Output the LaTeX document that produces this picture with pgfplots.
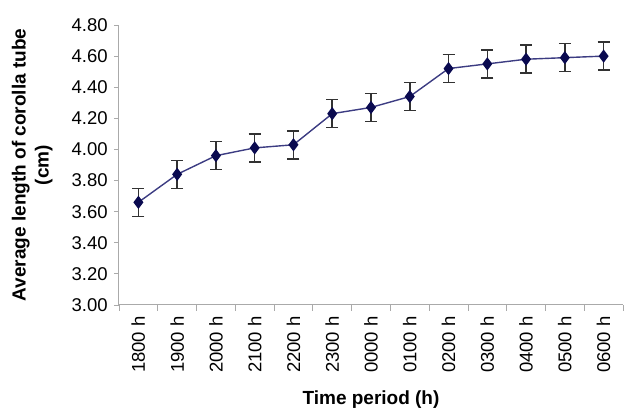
\documentclass[border=0pt]{standalone}
\usepackage{fontspec}
\setmainfont{Liberation Sans}
\usepackage{pgfplots}
\pgfplotsset{compat=1.18}

\definecolor{lineblue}{RGB}{60,60,130}
\definecolor{markblue}{RGB}{10,10,80}
\definecolor{axisgray}{RGB}{170,170,170}
\definecolor{errgray}{RGB}{50,50,50}

\begin{document}
\fontsize{18.5}{21}\selectfont
\begin{tikzpicture}[font=\fontsize{18.5}{21}\selectfont]
\begin{axis}[
    scale only axis,
    width=504pt,
    height=280pt,
    xmin=-0.5, xmax=12.5,
    ymin=3.0, ymax=4.8,
    ytick={3.0,3.2,...,4.81},
    yticklabel style={/pgf/number format/.cd, fixed, fixed zerofill, precision=2},
    /pgf/number format/assume math mode=true,
    xtick={0,...,12},
    xticklabels={1800 h,1900 h,2000 h,2100 h,2200 h,2300 h,0000 h,0100 h,0200 h,0300 h,0400 h,0500 h,0600 h},
    x tick label style={rotate=90, anchor=east},
    minor xtick={-0.5,0.5,...,12.5},
    major x tick style={draw=none},
    minor x tick style={draw=axisgray, line width=0.8pt},
    minor tick length=6pt,
    y tick style={draw=axisgray, line width=0.8pt},
    major tick length=5pt,
    tick align=outside,
    axis x line*=bottom,
    axis y line*=left,
    axis line style={draw=axisgray, line width=1pt},
    tick label style={font=\fontsize{18.5}{21}\selectfont},
    xlabel={Time period (h)},
    ylabel={Average length of corolla tube\\(cm)},
    every axis y label/.style={at={(axis description cs:0,0.5)}, xshift=-60pt, rotate=90, anchor=south, align=center,
        font=\bfseries\fontsize{19}{23}\selectfont},
    every axis x label/.style={at={(axis description cs:0.5,0)}, yshift=-79pt, anchor=north,
        font=\bfseries\fontsize{19}{23}\selectfont},
]
\addplot[
    color=lineblue, line width=1.4pt,
    mark=diamond*, mark size=5.5pt,
    mark options={fill=markblue, draw=markblue},
    error bars/.cd, y dir=both, y explicit,
    error bar style={errgray, line width=1.6pt},
    error mark options={rotate=90, mark size=6pt, errgray, line width=1.6pt},
] coordinates {
    (0,3.66) +- (0,0.09)
    (1,3.84) +- (0,0.09)
    (2,3.96) +- (0,0.09)
    (3,4.01) +- (0,0.09)
    (4,4.03) +- (0,0.09)
    (5,4.23) +- (0,0.09)
    (6,4.27) +- (0,0.09)
    (7,4.34) +- (0,0.09)
    (8,4.52) +- (0,0.09)
    (9,4.55) +- (0,0.09)
    (10,4.58) +- (0,0.09)
    (11,4.59) +- (0,0.09)
    (12,4.60) +- (0,0.09)
};
\end{axis}
\path ([shift={(7pt,25pt)}]current axis.north east);
\path ([shift={(-119pt,-107pt)}]current axis.south west);
\end{tikzpicture}
\end{document}
